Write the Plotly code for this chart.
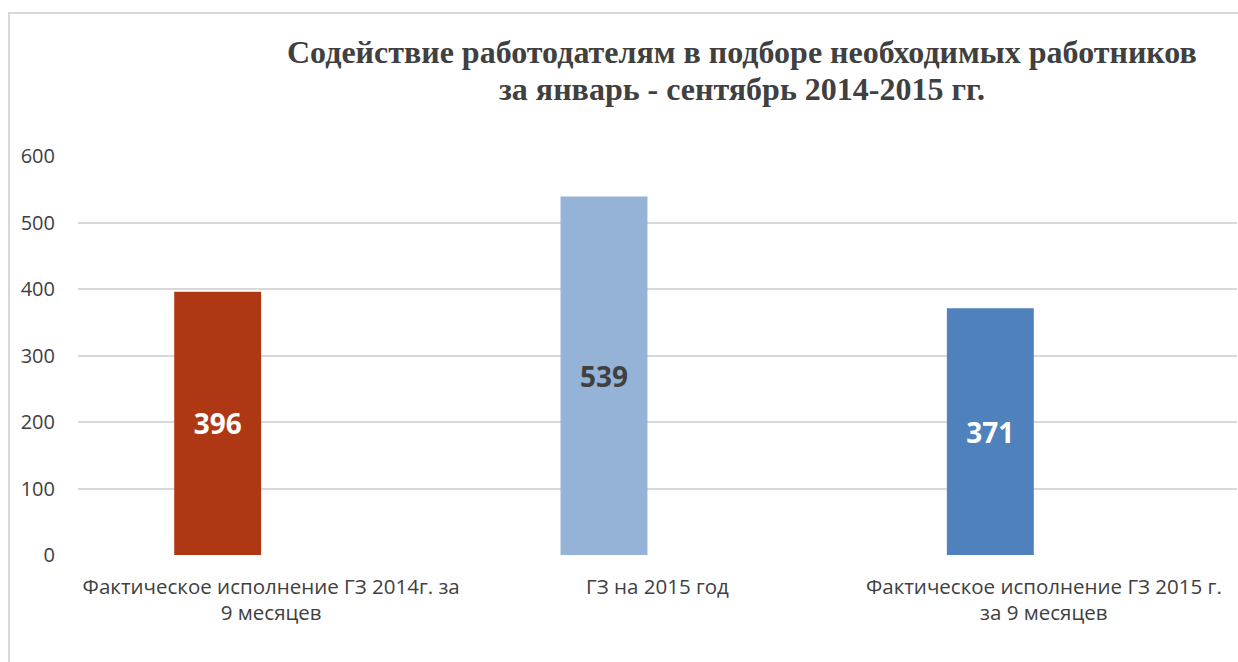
import plotly.graph_objects as go

categories = [
    "Фактическое исполнение ГЗ 2014г. за<br>9 месяцев",
    "ГЗ на 2015 год",
    "Фактическое исполнение ГЗ 2015 г.<br>за 9 месяцев",
]
values = [396, 539, 371]
bar_colors = ["#AF3814", "#95B3D7", "#4F81BD"]
label_colors = ["#FFFFFF", "#404040", "#FFFFFF"]
y_ticks = [0, 100, 200, 300, 400, 500, 600]
title_lines = [
    "Содействие работодателям в подборе необходимых работников",
    "за январь - сентябрь 2014-2015 гг.",
]

x_pos = list(range(len(categories)))

W, H = 1238, 662
L, T, R, B = 78, 156, 1, 107
pw, ph = W - L - R, H - T - B

fig = go.Figure()
fig.add_trace(go.Bar(
    x=x_pos,
    y=values,
    width=0.225,
    offset=-0.251,
    marker=dict(color=bar_colors, line=dict(width=0)),
    text=[str(v) for v in values],
    textposition="inside",
    insidetextanchor="middle",
    textangle=0,
    textfont=dict(family="Open Sans", size=28, color=label_colors, weight="bold"),
    showlegend=False,
))

title_centers = [52, 89]
annotations = [
    dict(
        text="<b>" + line + "</b>",
        xref="paper", yref="paper",
        x=(742 - L) / pw, xanchor="center",
        y=(H - B - yc) / ph, yanchor="middle",
        showarrow=False,
        font=dict(family="Liberation Serif", size=32, color="#404040"),
    )
    for line, yc in zip(title_lines, title_centers)
]

fig.update_layout(
    width=W,
    height=H,
    paper_bgcolor="white",
    plot_bgcolor="white",
    margin=dict(l=L, r=R, t=T, b=B),
    annotations=annotations,
    xaxis=dict(
        range=[-0.5, 2.5],
        tickvals=x_pos,
        ticktext=categories,
        showgrid=False,
        zeroline=False,
        showline=False,
        ticks="",
        ticklabelstandoff=17,
        tickfont=dict(family="Open Sans", size=20.5, color="#404040"),
    ),
    yaxis=dict(
        range=[0, 600],
        tickvals=y_ticks,
        showgrid=True,
        gridcolor="#D9D9D9",
        gridwidth=1.5,
        zeroline=False,
        showline=False,
        ticks="",
        ticklabelstandoff=22,
        tickfont=dict(family="Open Sans", size=20, color="#404040"),
    ),
    shapes=[dict(
        type="rect", xref="paper", yref="paper",
        x0=(9 - L) / pw, x1=(1250 - L) / pw,
        y0=(555 - 690) / ph, y1=(555 - 13) / ph,
        line=dict(color="#D9D9D9", width=2),
        fillcolor="rgba(0,0,0,0)",
        layer="below",
    )],
)

fig.write_html(
    "out.html",
    config={"displayModeBar": False},
    post_script="document.body.style.margin='0';document.body.style.overflow='hidden';",
)
